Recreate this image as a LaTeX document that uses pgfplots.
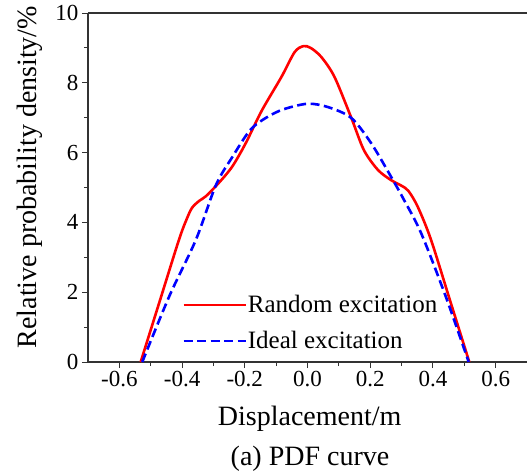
\documentclass[border=0pt]{standalone}
\usepackage{fontspec}
\setmainfont{Liberation Serif}
\usepackage{pgfplots}
\pgfplotsset{compat=1.18}
\begin{document}
\begin{tikzpicture}
\useasboundingbox (-88pt,-113pt) rectangle (440pt,362pt);
\begin{axis}[
  scale only axis,
  width=439pt, height=349pt,
  at={(0pt,0pt)}, anchor=south west,
  xmin=-0.7, xmax=0.7, ymin=0, ymax=10,
  axis x line=box, axis y line=left,
  axis line style={-, line width=1.1pt, black!80},
  xtick={-0.6,-0.4,-0.2,0,0.2,0.4,0.6},
  xticklabels={-0.6,-0.4,-0.2,0.0,0.2,0.4,0.6},
  ytick={0,2,4,6,8,10},
  minor x tick num=1, minor y tick num=1,
  xtick pos=left, ytick pos=left,
  tick align=outside,
  major tick length=6pt, minor tick length=4pt,
  every tick/.style={line width=1pt, black!80},
  /pgf/number format/assume math mode=true,
  ticklabel style={font=\fontsize{23}{27}\selectfont},
  xlabel={Displacement/m},
  xlabel style={font=\fontsize{28}{32}\selectfont, at={(axis description cs:0.505,0)}, anchor=base, yshift=-63pt},
  ylabel={Relative probability density/\%},
  ylabel style={font=\fontsize{28}{32}\selectfont, at={(axis description cs:-0.1162,0.53)}, anchor=base, rotate=0},
  legend style={draw=none, fill=none, at={(axis cs:-0.4,0.3)}, anchor=south west,
    font=\fontsize{25}{29}\selectfont, row sep=15pt, inner sep=0pt,
    nodes={inner sep=1pt}},
  legend cell align=left,
  legend image code/.code={\draw[#1] (0pt,0pt) -- (62pt,0pt);},
]
\addplot[red, line width=2.6pt, smooth, tension=0.5] coordinates {
(-0.532,0) (-0.47,1.78) (-0.41,3.5) (-0.385,4.1) (-0.368,4.42) (-0.345,4.62) (-0.324,4.75)
(-0.283,5.13) (-0.24,5.6) (-0.197,6.27) (-0.146,7.2) (-0.083,8.17) (-0.041,8.88)
(-0.013,9.05) (0.01,9.0) (0.044,8.74) (0.086,8.17) (0.14,6.99) (0.18,6.07) (0.225,5.5)
(0.267,5.21) (0.3,5.05) (0.322,4.9) (0.352,4.44) (0.394,3.5) (0.455,1.75) (0.516,0)
};
\addlegendentry{Random excitation}
\addplot[blue, line width=2.6pt, dash pattern=on 9pt off 4.5pt, smooth, tension=0.5] coordinates {
(-0.527,0) (-0.44,1.9) (-0.356,3.5) (-0.292,5.07) (-0.24,5.87) (-0.187,6.6) (-0.146,6.92)
(-0.083,7.22) (0,7.4) (0.067,7.3) (0.14,6.99) (0.203,6.27) (0.267,5.3) (0.308,4.64)
(0.362,3.7) (0.44,1.9) (0.514,0)
};
\addlegendentry{Ideal excitation}
\end{axis}
\node[anchor=base, font=\fontsize{28}{32}\selectfont] at (222pt,-103pt) {(a) PDF curve};
\end{tikzpicture}
\end{document}
